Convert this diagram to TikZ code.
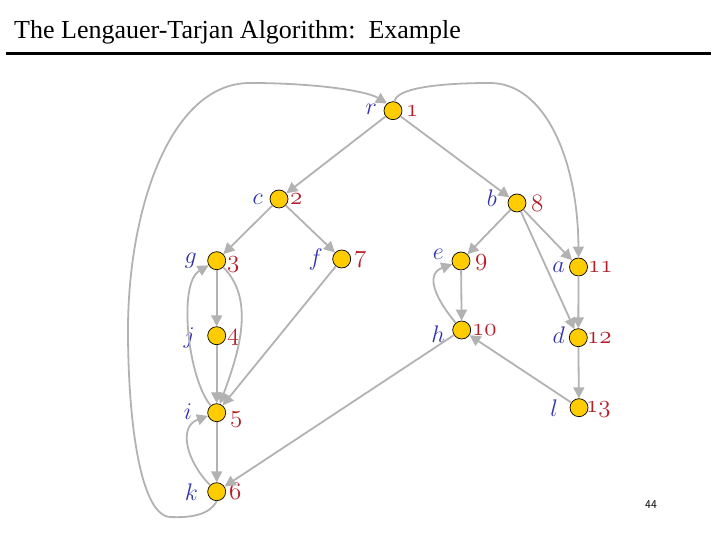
\RequirePackage{fix-cm}
\documentclass[tikz,border=0pt]{standalone}
\usepackage{fontspec}
\newfontfamily\titlefont{Liberation Serif}
\usetikzlibrary{arrows.meta}
\definecolor{edgegray}{RGB}{178,178,178}
\definecolor{nodegold}{RGB}{255,204,0}
\definecolor{labblue}{RGB}{51,51,170}
\definecolor{numred}{RGB}{180,30,40}
\newcommand\osn[1]{{\usefont{OML}{cmm}{m}{it}#1}}
\begin{document}
\begin{tikzpicture}[x=1pt,y=1pt,
 vtx/.style={circle, draw=black, line width=0.7pt, fill=nodegold, minimum size=18pt, inner sep=0pt},
 edge/.style={draw=edgegray, line width=1.8pt, -{Triangle[length=11pt,width=11pt]}},
 vname/.style={text=labblue, font=\fontsize{24}{28}\selectfont, inner sep=0pt, anchor=base east},
 vnum/.style={text=numred, font=\fontsize{25}{28}\selectfont, inner sep=0pt, anchor=base west}]
\useasboundingbox (0,0) rectangle (720,540);
% title
\node[anchor=base west, inner sep=0pt] (title) at (14,501) {\titlefont\fontsize{26}{30}\selectfont The Lengauer-Tarjan Algorithm:\ \ Example};
\coordinate (ruleL) at (5.5,486);
\coordinate (ruleR) at (710.5,486);
\draw[line width=3pt] (ruleL) -- (ruleR);
\node[font=\sffamily\fontsize{12}{14}\selectfont, inner sep=0pt] (page) at (651,35) {44};
% vertices
\node[vtx] (r) at (393,429.3) {};
\node[vtx] (c) at (279,341) {};
\node[vtx] (b) at (517,337) {};
\node[vtx] (g) at (216.7,279.3) {};
\node[vtx] (f) at (341.7,281) {};
\node[vtx] (e) at (461,279) {};
\node[vtx] (a) at (578.5,273) {};
\node[vtx] (j) at (216.7,204.3) {};
\node[vtx] (h) at (461.7,210) {};
\node[vtx] (d) at (578.3,202.3) {};
\node[vtx] (i) at (216.7,127.3) {};
\node[vtx] (l) at (579,132.3) {};
\node[vtx] (k) at (216.7,48.3) {};
% labels
\node[vname] (rL) at (377,425.3) {$r$};
\node[vnum]  (rN) at (406,423.3) {\osn{1}};
\node[vname] (cL) at (263,335) {$c$};
\node[vnum]  (cN) at (290,335) {\osn{2}};
\node[vname] (bL) at (497,333) {$b$};
\node[vnum]  (bN) at (531,328) {\osn{8}};
\node[vname] (gL) at (197,276.3) {$g$};
\node[vnum]  (gN) at (227,272.3) {\osn{3}};
\node[vname] (fL) at (323,274) {$f$};
\node[vnum]  (fN) at (354,277) {\osn{7}};
\node[vname] (eL) at (444,280) {$e$};
\node[vnum]  (eN) at (475,274) {\osn{9}};
\node[vname] (aL) at (565,267) {$a$};
\node[vnum]  (aN) at (588,267) {\osn{11}};
\node[vname] (jL) at (195,196.3) {$j$};
\node[vnum]  (jN) at (227,199.3) {\osn{4}};
\node[vname] (hL) at (445,197) {$h$};
\node[vnum]  (hN) at (472,204) {\osn{10}};
\node[vname] (dL) at (565,196.3) {$d$};
\node[vnum]  (dN) at (587,196.3) {\osn{12}};
\node[vname] (iL) at (192,120.3) {$i$};
\node[vnum]  (iN) at (230,117.3) {\osn{5}};
\node[vname] (lL) at (558,123.3) {$l$};
\node[vnum]  (lN) at (586,127.3) {\osn{13}};
\node[vname] (kL) at (198,39.3) {$k$};
\node[vnum]  (kN) at (229,40.3) {\osn{6}};
% straight edges
\draw[edge] (r) -- (c);
\draw[edge] (r) -- (b);
\draw[edge] (c) -- (g);
\draw[edge] (c) -- (f);
\draw[edge] (g) -- (j);
\draw[edge] (j) -- (i);
\draw[edge] (i) -- (k);
\draw[edge] (f) -- (i);
\draw[edge] (h) -- (k);
\draw[edge] (b) -- (e);
\draw[edge] (e) -- (h);
\draw[edge] (b) -- (a);
\draw[edge] (b) -- (d);
\draw[edge] (a) -- (d);
\draw[edge] (d) -- (l);
\draw[edge] (l) -- (h);
% curved edges
\draw[edge] (g) to[out=-45,in=70,looseness=0.9] (i);
\draw[edge] (i) to[out=130,in=-150,looseness=0.65] (g);
\draw[edge] (k) to[out=135,in=-160,looseness=1.2] (i);
\draw[edge] (h) to[out=130,in=-160,looseness=1.3] (e);
\draw[edge] (k.south) .. controls (210,25) and (190,22) .. (170,23)
  .. controls (140,25) and (128,120) .. (128,210)
  .. controls (128,330) and (170,457) .. (250,457)
  .. controls (310,457) and (365,450) .. (r.130);
\draw[edge] (r.80) .. controls (396,452) and (440,457) .. (490,457)
  .. controls (545,457) and (578,380) .. (a.north);
\end{tikzpicture}
\end{document}
